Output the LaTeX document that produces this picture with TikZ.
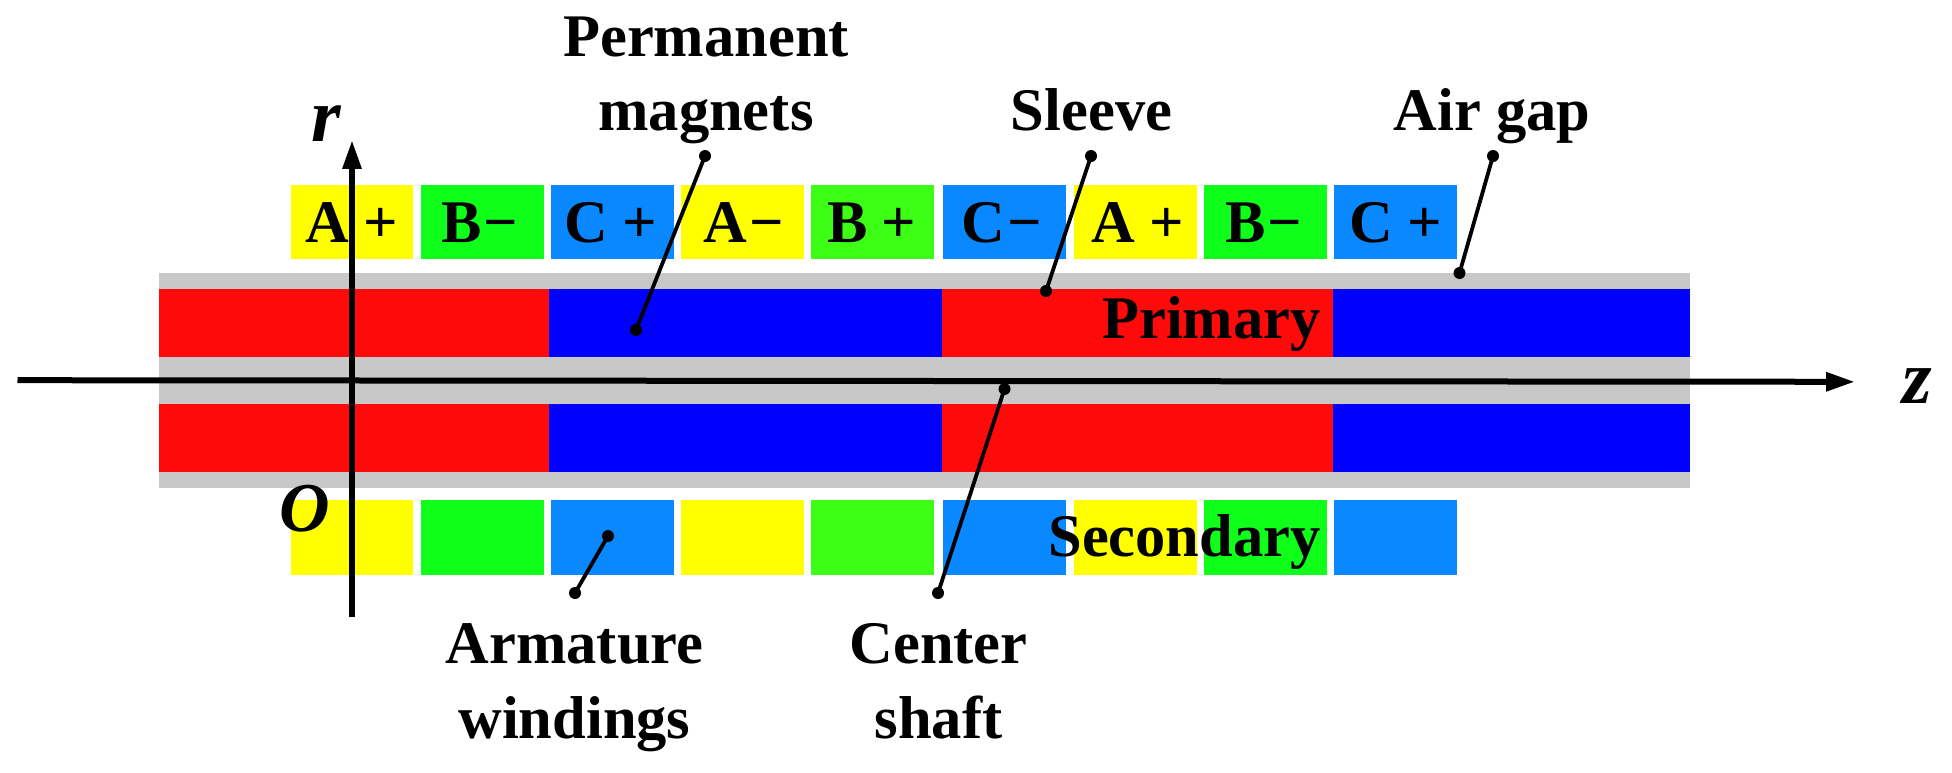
\documentclass[tikz,border=0pt]{standalone}
\usepackage{fontspec}
\setmainfont{Liberation Serif}
\usetikzlibrary{arrows.meta}
\definecolor{cgray}{HTML}{C8C8C8}
\definecolor{cred}{HTML}{FF0A0A}
\definecolor{cblue}{HTML}{0000FF}
\definecolor{cyel}{HTML}{FFFF00}
\definecolor{cgrn}{HTML}{10FF1A}
\definecolor{cgrb}{HTML}{3CFF15}
\definecolor{cazu}{HTML}{0A88FF}
\tikzset{
  lab/.style={inner sep=0pt,outer sep=0pt,anchor=base,font=\fontsize{60.5}{60.5}\selectfont\bfseries},
  sym/.style={inner sep=0pt,outer sep=0pt,anchor=base,font=\fontsize{76}{76}\selectfont\bfseries\itshape},
  coil/.style={inner sep=0pt,outer sep=0pt,anchor=north west,minimum width=122.5pt},
  coiltop/.style={coil,minimum height=74pt},
  coilbot/.style={coil,minimum height=74.7pt},
  band/.style={inner sep=0pt,outer sep=0pt,anchor=north west},
  leader/.style={line width=3.8pt,black},
  dot/.style={circle,fill=black,inner sep=0pt,outer sep=0pt,minimum size=12pt},
  axis/.style={line width=6pt,black,-{Triangle[length=29pt,width=18pt]}},
}
\begin{document}
\begin{tikzpicture}[x=1pt,y=-1pt]
\useasboundingbox (0,0) rectangle (1952,773);
% grey bands
\node[band,fill=cgray,minimum width=1530.7pt,minimum height=215.3pt] (gray) at (158.8,272.7) {};
% primary
\node[band,fill=cred,minimum width=390pt,minimum height=68.6pt] (p1) at (158.8,288.7) {};
\node[band,fill=cblue,minimum width=393.2pt,minimum height=68.6pt] (p2) at (548.8,288.7) {};
\node[band,fill=cred,minimum width=390.6pt,minimum height=68.6pt] (p3) at (942,288.7) {};
\node[band,fill=cblue,minimum width=357pt,minimum height=68.6pt] (p4) at (1332.6,288.7) {};
% secondary
\node[band,fill=cred,minimum width=390pt,minimum height=68.3pt] (s1) at (158.8,404) {};
\node[band,fill=cblue,minimum width=393.2pt,minimum height=68.3pt] (s2) at (548.8,404) {};
\node[band,fill=cred,minimum width=390.6pt,minimum height=68.3pt] (s3) at (942,404) {};
\node[band,fill=cblue,minimum width=357pt,minimum height=68.3pt] (s4) at (1332.6,404) {};
% top coils
\node[coiltop,fill=cyel] (t1) at (290.6,185.3) {};
\node[coiltop,fill=cgrn] (t2) at (421,185.3) {};
\node[coiltop,fill=cazu] (t3) at (551,185.3) {};
\node[coiltop,fill=cyel] (t4) at (681,185.3) {};
\node[coiltop,fill=cgrb] (t5) at (811,185.3) {};
\node[coiltop,fill=cazu] (t6) at (943,185.3) {};
\node[coiltop,fill=cyel] (t7) at (1074,185.3) {};
\node[coiltop,fill=cgrn] (t8) at (1204,185.3) {};
\node[coiltop,fill=cazu] (t9) at (1334.2,185.3) {};
% bottom coils
\node[coilbot,fill=cyel] (b1) at (290.6,500) {};
\node[coilbot,fill=cgrn] (b2) at (421,500) {};
\node[coilbot,fill=cazu] (b3) at (551,500) {};
\node[coilbot,fill=cyel] (b4) at (681,500) {};
\node[coilbot,fill=cgrb] (b5) at (811,500) {};
\node[coilbot,fill=cazu] (b6) at (943,500) {};
\node[coilbot,fill=cyel] (b7) at (1074,500) {};
\node[coilbot,fill=cgrn] (b8) at (1204,500) {};
\node[coilbot,fill=cazu] (b9) at (1334.2,500) {};
% axes
\coordinate (zs) at (17.5,380.2);
\coordinate (ze) at (1855,381.8);
\coordinate (rs) at (352,617);
\coordinate (re) at (352,140);
\draw[axis] (zs) -- (ze);
\draw[axis] (rs) -- (re);
% coil labels
\node[lab] (l1) at (351.5,242.7) {A\kern14pt+};
\node[lab] (l2) at (480,242.7) {B\kern2pt−};
\node[lab] (l3) at (610.7,242.7) {C\kern14pt+};
\node[lab] (l4) at (744,242.7) {A\kern2pt−};
\node[lab] (l5) at (871.5,242.7) {B\kern14pt+};
\node[lab] (l6) at (1002,242.7) {C\kern2pt−};
\node[lab] (l7) at (1137.5,242.7) {A\kern14pt+};
\node[lab] (l8) at (1264,242.7) {B\kern2pt−};
\node[lab] (l9) at (1396,242.7) {C\kern14pt+};
% leaders
\node[dot] (d1a) at (705,156) {};
\node[dot] (d1b) at (636,330) {};
\node[dot] (d2a) at (1091,156) {};
\node[dot] (d2b) at (1046,291) {};
\node[dot] (d3a) at (1493,156) {};
\node[dot] (d3b) at (1459.5,273) {};
\node[dot] (d4a) at (608,536) {};
\node[dot] (d4b) at (575,593) {};
\node[dot] (d5a) at (1004.5,389) {};
\node[dot] (d5b) at (938,593) {};
\draw[leader] (d1a.center) -- (d1b.center);
\draw[leader] (d2a.center) -- (d2b.center);
\draw[leader] (d3a.center) -- (d3b.center);
\draw[leader] (d4a.center) -- (d4b.center);
\draw[leader] (d5a.center) -- (d5b.center);
% labels
\node[lab] (perm) at (706,56.7) {Permanent};
\node[lab] (magn) at (706,130.7) {magnets};
\node[lab] (slee) at (1091.6,130.7) {Sleeve};
\node[lab] (airg) at (1492,130.7) {Air gap};
\node[lab] (prim) at (1211.5,338) {Primary};
\node[lab] (seco) at (1184.5,556) {Secondary};
\node[lab] (arma) at (574.5,663) {Armature};
\node[lab] (wind) at (574.5,738) {windings};
\node[lab] (cent) at (938.5,663) {Center};
\node[lab] (shaf) at (938.5,738) {shaft};
% axis symbols
\node[sym] (rl) at (326,141.7) {r};
\node[sym] (zl) at (1917,403.7) {z};
\node[sym,font=\fontsize{70}{70}\selectfont\bfseries\itshape] (ol) at (305,531) {O};
\end{tikzpicture}
\end{document}
